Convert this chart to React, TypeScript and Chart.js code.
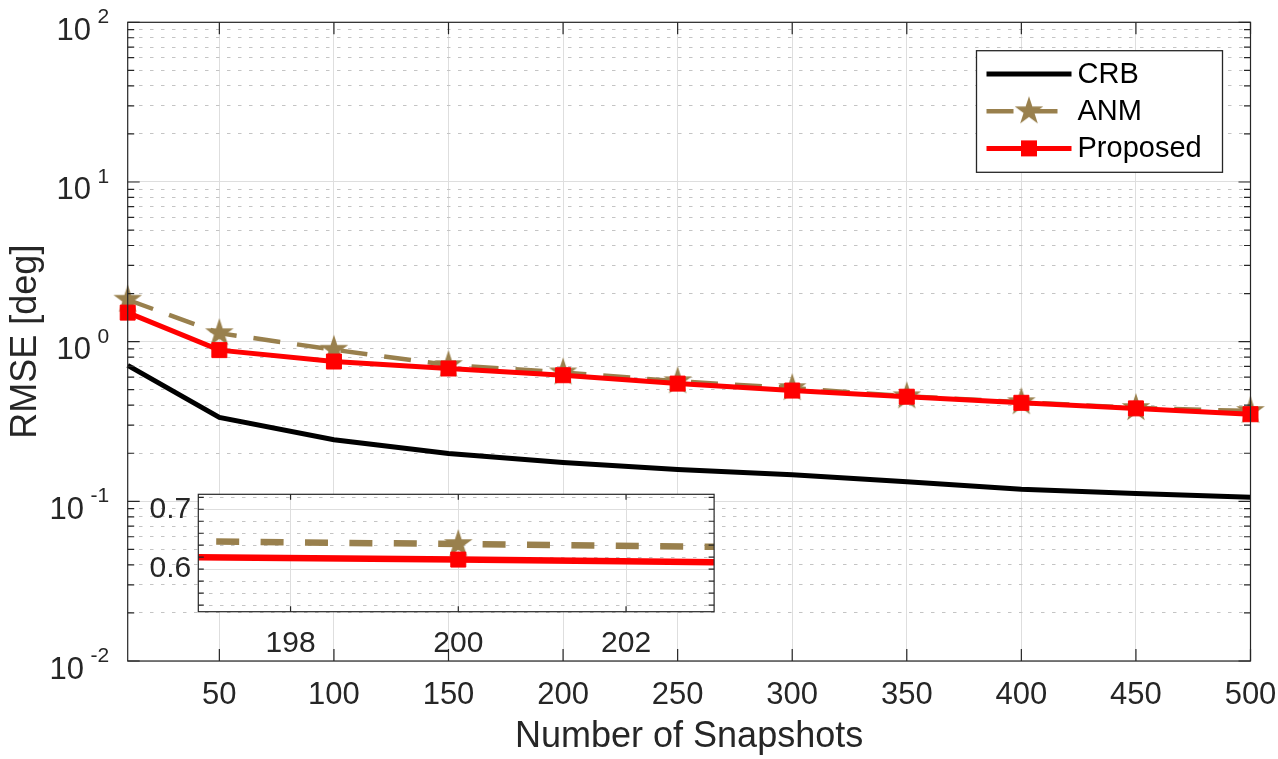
import React, { useEffect, useRef } from 'react';
import { Chart, registerables } from 'chart.js';

Chart.register(...registerables);

// ---------------- data ----------------
const snapshots = [10, 50, 100, 150, 200, 250, 300, 350, 400, 450, 500];
const crbRmse = [0.711, 0.335, 0.243, 0.1995, 0.175, 0.158, 0.1466, 0.1326, 0.119, 0.112, 0.106];
const anmRmse = [1.83, 1.13, 0.89, 0.713, 0.642, 0.565, 0.512, 0.455, 0.418, 0.384, 0.368];
const proposedRmse = [1.52, 0.885, 0.751, 0.679, 0.616, 0.546, 0.494, 0.452, 0.414, 0.382, 0.351];
const seriesLabels = ['CRB', 'ANM', 'Proposed'];

const xTickValues = [50, 100, 150, 200, 250, 300, 350, 400, 450, 500];
const yDecadeExponents = [-2, -1, 0, 1, 2];
const yMantissas = [1, 2, 3, 4, 5, 6, 7, 8, 9];
const insetXTicks = [198, 200, 202];
const insetYTicks = [0.54, 0.56, 0.58, 0.6, 0.62, 0.64, 0.66, 0.68, 0.7, 0.72];
const insetYLabels = ['0.6', '0.7'];

// ---------------- style ----------------
const FONT = "'Liberation Sans', Arial, Helvetica, sans-serif";
const AXIS_COLOR = '#262626';
const MAJOR_GRID = '#dedede';
const MINOR_GRID = '#c4c4c4';
const MINOR_DASH = [3.5, 7.5];
const ANM_COLOR = 'rgb(153,128,77)';
const RED = '#ff0000';

const yLogTicks: number[] = [];
for (let i = 0; i < yDecadeExponents.length - 1; i++) {
  for (const m of yMantissas) {
    yLogTicks.push(Number((m * Math.pow(10, yDecadeExponents[i])).toPrecision(3)));
  }
}
yLogTicks.push(Math.pow(10, yDecadeExponents[yDecadeExponents.length - 1]));

const isDecade = (v: number) => {
  const l = Math.log10(v);
  return Math.abs(l - Math.round(l)) < 1e-6;
};
const isInsetMajor = (v: number) => insetYLabels.some((s) => Math.abs(parseFloat(s) - v) < 1e-6);

function makeStar(R: number, color: string): HTMLCanvasElement {
  const size = Math.ceil(2 * R + 2);
  const c = document.createElement('canvas');
  c.width = size;
  c.height = size;
  const g = c.getContext('2d')!;
  g.fillStyle = color;
  g.beginPath();
  const cx = size / 2;
  const cy = size / 2;
  for (let i = 0; i < 10; i++) {
    const r = i % 2 === 0 ? R : R * 0.382;
    const a = -Math.PI / 2 + (i * Math.PI) / 5;
    const px = cx + r * Math.cos(a);
    const py = cy + r * Math.sin(a);
    if (i === 0) g.moveTo(px, py);
    else g.lineTo(px, py);
  }
  g.closePath();
  g.fill();
  return c;
}

const toPoints = (ys: number[]) => snapshots.map((x, i) => ({ x, y: ys[i] }));

const noScalePadding = (s: any) => {
  s.paddingLeft = 0;
  s.paddingRight = 0;
  s.paddingTop = 0;
  s.paddingBottom = 0;
};

function drawLegend(chart: any) {
  const { ctx, chartArea: a } = chart;
  const boxW = 246;
  const boxH = 121.6;
  const boxLeft = a.right - 28 - boxW;
  const boxTop = a.top + 28.4;
  ctx.save();
  ctx.fillStyle = '#ffffff';
  ctx.fillRect(boxLeft, boxTop, boxW, boxH);
  ctx.strokeStyle = AXIS_COLOR;
  ctx.lineWidth = 1.3;
  ctx.strokeRect(boxLeft, boxTop, boxW, boxH);
  [0, 1, 2].forEach((i) => {
    const ds = chart.data.datasets[i];
    const cy = boxTop + 23.3 + i * 37.2;
    const x0 = boxLeft + 10;
    const x1 = boxLeft + 95;
    ctx.save();
    ctx.strokeStyle = ds.borderColor;
    ctx.lineWidth = ds.borderWidth;
    ctx.setLineDash(ds.borderDash || []);
    ctx.beginPath();
    ctx.moveTo(x0, cy);
    ctx.lineTo(x1, cy);
    ctx.stroke();
    ctx.setLineDash([]);
    const mx = (x0 + x1) / 2;
    if (ds.pointStyle instanceof HTMLCanvasElement) {
      ctx.drawImage(ds.pointStyle, mx - ds.pointStyle.width / 2, cy - ds.pointStyle.height / 2);
    } else if (ds.pointStyle === 'rect' && ds.pointRadius > 0) {
      ctx.fillStyle = ds.pointBackgroundColor;
      ctx.fillRect(mx - 8, cy - 8, 16, 16);
    }
    ctx.fillStyle = '#000000';
    ctx.font = `29px ${FONT}`;
    ctx.textAlign = 'left';
    ctx.textBaseline = 'middle';
    ctx.fillText(ds.label, boxLeft + 101, cy + 1);
    ctx.restore();
  });
  ctx.restore();
}

const mainDecor = {
  id: 'mainDecor',
  afterDraw(chart: any) {
    const { ctx, chartArea: a, scales } = chart;
    const xs = scales.x;
    const ys = scales.y;
    ctx.save();
    ctx.strokeStyle = AXIS_COLOR;
    ctx.lineWidth = 1.2;
    ctx.setLineDash([]);
    ctx.beginPath();
    xTickValues.forEach((v) => {
      const px = xs.getPixelForValue(v);
      ctx.moveTo(px, a.bottom);
      ctx.lineTo(px, a.bottom - 12);
      ctx.moveTo(px, a.top);
      ctx.lineTo(px, a.top + 12);
    });
    yLogTicks.forEach((v) => {
      const py = ys.getPixelForValue(v);
      const len = isDecade(v) ? 12 : 6.5;
      ctx.moveTo(a.left, py);
      ctx.lineTo(a.left + len, py);
      ctx.moveTo(a.right, py);
      ctx.lineTo(a.right - len, py);
    });
    ctx.stroke();
    ctx.strokeRect(a.left, a.top, a.right - a.left, a.bottom - a.top);

    ctx.fillStyle = AXIS_COLOR;
    ctx.textBaseline = 'alphabetic';
    ctx.textAlign = 'right';
    yDecadeExponents.forEach((e) => {
      const py = ys.getPixelForValue(Math.pow(10, e));
      const expText = String(e);
      const xRight = a.left - 18.5;
      ctx.font = `21px ${FONT}`;
      ctx.fillText(expText, xRight, py + 1);
      const w = ctx.measureText(expText).width;
      ctx.font = `31px ${FONT}`;
      ctx.fillText('10', xRight - w - 6.5, py + 17.5);
    });
    ctx.restore();
    drawLegend(chart);
  },
};

const insetDecor = {
  id: 'insetDecor',
  beforeDraw(chart: any) {
    const { ctx, chartArea: a } = chart;
    ctx.save();
    ctx.fillStyle = '#ffffff';
    ctx.fillRect(a.left, a.top, a.right - a.left, a.bottom - a.top);
    ctx.restore();
  },
  afterDraw(chart: any) {
    const { ctx, chartArea: a, scales } = chart;
    ctx.save();
    ctx.strokeStyle = AXIS_COLOR;
    ctx.lineWidth = 1.2;
    ctx.beginPath();
    insetXTicks.forEach((v) => {
      const px = scales.x.getPixelForValue(v);
      ctx.moveTo(px, a.bottom);
      ctx.lineTo(px, a.bottom - 5.5);
      ctx.moveTo(px, a.top);
      ctx.lineTo(px, a.top + 5.5);
    });
    insetYTicks.forEach((v) => {
      const py = scales.y.getPixelForValue(v);
      ctx.moveTo(a.left, py);
      ctx.lineTo(a.left + 5.5, py);
      ctx.moveTo(a.right, py);
      ctx.lineTo(a.right - 5.5, py);
    });
    ctx.stroke();
    ctx.strokeRect(a.left, a.top, a.right - a.left, a.bottom - a.top);
    ctx.restore();
  },
};

export default function App() {
  const mainRef = useRef<HTMLCanvasElement>(null);
  const insetRef = useRef<HTMLCanvasElement>(null);

  useEffect(() => {
    document.body.style.margin = '0';
    const star = makeStar(15, ANM_COLOR);

    const main = new Chart(mainRef.current as HTMLCanvasElement, {
      type: 'line',
      data: {
        datasets: [
          {
            label: seriesLabels[0],
            data: toPoints(crbRmse),
            borderColor: '#000000',
            backgroundColor: '#000000',
            borderWidth: 5,
            pointRadius: 0,
            order: 2,
            clip: false as any,
          },
          {
            label: seriesLabels[1],
            data: toPoints(anmRmse),
            borderColor: ANM_COLOR,
            backgroundColor: ANM_COLOR,
            borderWidth: 4.5,
            borderDash: [27, 17],
            pointStyle: star as any,
            pointRadius: 15,
            order: 1,
            clip: false as any,
          },
          {
            label: seriesLabels[2],
            data: toPoints(proposedRmse),
            borderColor: RED,
            backgroundColor: RED,
            borderWidth: 5,
            pointStyle: 'rect',
            pointRadius: 10.6,
            pointBackgroundColor: RED,
            pointBorderColor: RED,
            pointBorderWidth: 1,
            order: 0,
            clip: false as any,
          },
        ] as any,
      },
      options: {
        responsive: false,
        animation: false,
        devicePixelRatio: 1,
        events: [],
        layout: { autoPadding: false, padding: { top: 22.3, right: 27.5, left: 0, bottom: 0 } },
        plugins: { legend: { display: false }, tooltip: { enabled: false } },
        scales: {
          x: {
            type: 'linear',
            min: 10,
            max: 500,
            afterBuildTicks: (s: any) => {
              s.ticks = xTickValues.map((v) => ({ value: v }));
            },
            afterFit: (s: any) => {
              s.height = 98;
              noScalePadding(s);
            },
            grid: { color: MAJOR_GRID, lineWidth: 1, drawTicks: false },
            border: { display: false },
            ticks: {
              font: { family: FONT, size: 31 },
              color: AXIS_COLOR,
              padding: 15.7,
              maxRotation: 0,
              autoSkip: false,
            },
            title: {
              display: true,
              text: 'Number of Snapshots',
              font: { family: FONT, size: 36 },
              color: AXIS_COLOR,
              padding: { top: 0, bottom: 0 },
            },
          },
          y: {
            type: 'logarithmic',
            min: 0.01,
            max: 100,
            afterBuildTicks: (s: any) => {
              s.ticks = yLogTicks.map((v) => ({ value: v, major: isDecade(v) }));
            },
            afterFit: (s: any) => {
              s.width = 127.7;
              noScalePadding(s);
            },
            grid: {
              color: (c: any) => (c.tick && isDecade(c.tick.value) ? MAJOR_GRID : MINOR_GRID),
              lineWidth: 1,
              drawTicks: false,
            },
            border: {
              display: false,
              dash: (c: any) => (c.tick && isDecade(c.tick.value) ? [] : MINOR_DASH),
            } as any,
            ticks: { display: false },
            title: {
              display: true,
              text: 'RMSE [deg]',
              font: { family: FONT, size: 36 },
              color: AXIS_COLOR,
              padding: { top: 4.5, bottom: 0 },
            },
          },
        },
      } as any,
      plugins: [mainDecor],
    });

    const inset = new Chart(insetRef.current as HTMLCanvasElement, {
      type: 'line',
      data: {
        datasets: [
          {
            label: seriesLabels[1],
            data: toPoints(anmRmse),
            borderColor: ANM_COLOR,
            borderWidth: 6.5,
            borderDash: [23, 21.4],
            pointStyle: star as any,
            pointRadius: 15,
            order: 1,
            clip: 0,
          },
          {
            label: seriesLabels[2],
            data: toPoints(proposedRmse),
            borderColor: RED,
            borderWidth: 6.5,
            pointStyle: 'rect',
            pointRadius: 10.6,
            pointBackgroundColor: RED,
            pointBorderColor: RED,
            pointBorderWidth: 1,
            order: 0,
            clip: 0,
          },
        ] as any,
      },
      options: {
        responsive: false,
        animation: false,
        devicePixelRatio: 1,
        events: [],
        layout: { autoPadding: false, padding: { top: 14.3, right: 15.9, left: 0, bottom: 0 } },
        plugins: { legend: { display: false }, tooltip: { enabled: false } },
        scales: {
          x: {
            type: 'linear',
            min: 196.9,
            max: 203.05,
            afterBuildTicks: (s: any) => {
              s.ticks = insetXTicks.map((v) => ({ value: v }));
            },
            afterFit: (s: any) => {
              s.height = 58.3;
              noScalePadding(s);
            },
            grid: { color: MAJOR_GRID, lineWidth: 1, drawTicks: false },
            border: { display: false },
            ticks: {
              font: { family: FONT, size: 30 },
              color: AXIS_COLOR,
              padding: 13.6,
              maxRotation: 0,
              autoSkip: false,
            },
          },
          y: {
            type: 'linear',
            min: 0.529,
            max: 0.725,
            afterBuildTicks: (s: any) => {
              s.ticks = insetYTicks.map((v) => ({ value: v }));
            },
            afterFit: (s: any) => {
              s.width = 68.3;
              noScalePadding(s);
            },
            grid: {
              color: (c: any) => (c.tick && isInsetMajor(c.tick.value) ? MAJOR_GRID : MINOR_GRID),
              lineWidth: 1,
              drawTicks: false,
            },
            border: {
              display: false,
              dash: (c: any) => (c.tick && isInsetMajor(c.tick.value) ? [] : MINOR_DASH),
            } as any,
            ticks: {
              font: { family: FONT, size: 30 },
              color: AXIS_COLOR,
              padding: 7,
              autoSkip: false,
              callback: (v: any) => {
                const found = insetYLabels.find((s) => Math.abs(parseFloat(s) - Number(v)) < 1e-6);
                return found || '';
              },
            },
          },
        },
      } as any,
      plugins: [insetDecor],
    });

    return () => {
      main.destroy();
      inset.destroy();
    };
  }, []);

  return (
    <div style={{ position: 'relative', width: 1278, height: 759, background: '#ffffff' }}>
      <canvas
        ref={mainRef}
        width={1278}
        height={759}
        style={{ position: 'absolute', left: 0, top: 0, width: 1278, height: 759 }}
      />
      <canvas
        ref={insetRef}
        width={600}
        height={190}
        style={{ position: 'absolute', left: 130, top: 480, width: 600, height: 190 }}
      />
    </div>
  );
}
